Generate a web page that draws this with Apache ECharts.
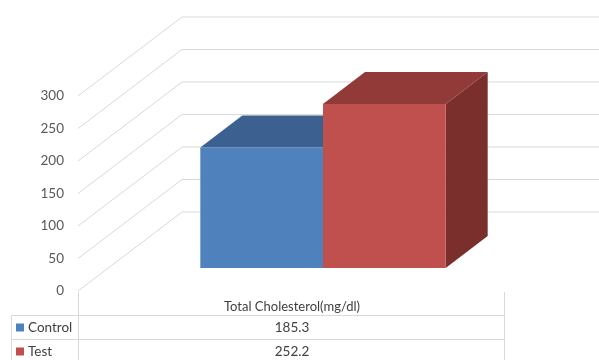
<!DOCTYPE html>
<html>
<head>
<meta charset="utf-8">
<script src="https://cdn.jsdelivr.net/npm/echarts@6/dist/echarts.min.js"></script>
<style>
  html, body { margin: 0; padding: 0; background: #ffffff; }
  #chart { width: 599px; height: 360px; }
</style>
</head>
<body>
<div id="chart"></div>
<script>
// Data
const categories = ['Total Cholesterol(mg/dl)'];
const seriesNames = ['Control', 'Test'];
const controlValues = [185.3];
const testValues = [252.2];
const yTicks = [0, 50, 100, 150, 200, 250, 300];

// Styling
const FONT = 'Lato, "Liberation Sans", sans-serif';
const GRID_COLOR = '#d9d9d9';
const faceColors = [
  { front: '#4f81bd', top: '#3c6190', side: '#2f4b70' },
  { front: '#c0504d', top: '#923a37', side: '#7a2f2d' }
];

// Oblique projection: depth of the whole floor and placement of the bars in it
const WALL_DX = 104, WALL_DY = -79;
const BAR_OFF_DX = 32, BAR_OFF_DY = -23;
const BAR_DEPTH_DX = 42, BAR_DEPTH_DY = -32;
const BAR_FRACTION = 0.288;

const chart = echarts.init(document.getElementById('chart'), null, { renderer: 'canvas' });

function barRenderer(k) {
  const c = faceColors[k];
  return function (params, api) {
    const base = api.coord([api.value(0), 0]);
    const top = api.coord([api.value(0), api.value(1)]);
    const band = api.size([1, 0])[0];
    const bw = band * BAR_FRACTION;
    const x0 = base[0] - bw + k * bw + BAR_OFF_DX;
    const x1 = x0 + bw;
    const yt = top[1] + BAR_OFF_DY;
    const yb = base[1] + BAR_OFF_DY;
    const dx = BAR_DEPTH_DX, dy = BAR_DEPTH_DY;
    return {
      type: 'group',
      children: [
        { type: 'polygon', shape: { points: [[x1, yt], [x1 + dx, yt + dy], [x1 + dx, yb + dy], [x1, yb]] },
          style: { fill: c.side } },
        { type: 'polygon', shape: { points: [[x0, yt], [x1, yt], [x1 + dx, yt + dy], [x0 + dx, yt + dy]] },
          style: { fill: c.top } },
        { type: 'rect', shape: { x: x0, y: yt, width: bw, height: yb - yt },
          style: { fill: c.front } }
      ]
    };
  };
}

function gridRenderer(params, api) {
  const centre = api.coord([0, api.value(1)]);
  const band = api.size([1, 0])[0];
  const xl = centre[0] - band / 2;
  const y = centre[1];
  return {
    type: 'polyline',
    shape: { points: [[xl, y], [xl + WALL_DX, y + WALL_DY], [api.getWidth(), y + WALL_DY]] },
    style: { stroke: GRID_COLOR, lineWidth: 1, fill: null }
  };
}

const option = {
  animation: false,
  backgroundColor: '#ffffff',
  grid: { left: 78, right: 95, top: 96, bottom: 69 },
  xAxis: {
    type: 'category',
    data: categories,
    axisLine: { show: false },
    axisTick: { show: false },
    axisLabel: { show: false }
  },
  yAxis: {
    type: 'value',
    min: 0, max: 300, interval: 50,
    axisLine: { show: false },
    axisTick: { show: false },
    splitLine: { show: false },
    axisLabel: { color: '#595959', fontSize: 13.5, fontFamily: FONT, margin: 14 }
  },
  series: [
    { type: 'custom', name: 'grid', silent: true, z: 1,
      renderItem: gridRenderer,
      data: yTicks.map(v => [0, v]) },
    { type: 'custom', name: seriesNames[0], z: 2,
      renderItem: barRenderer(0),
      data: controlValues.map((v, i) => [i, v]) },
    { type: 'custom', name: seriesNames[1], z: 3,
      renderItem: barRenderer(1),
      data: testValues.map((v, i) => [i, v]) }
  ]
};
chart.setOption(option);

// Data table under the plot
function buildTable() {
  const leftEdge = 11, colLeft = 78, colRight = 504;
  const headerTop = 292, rowTop = 315, rowH = 24;
  const els = [];
  const line = (x1, y1, x2, y2) => ({
    type: 'line', shape: { x1, y1, x2, y2 },
    style: { stroke: GRID_COLOR, lineWidth: 1 }, z: 10
  });
  const allValues = [controlValues, testValues];
  const nRows = seriesNames.length;
  const bottom = rowTop + rowH * nRows;
  els.push(line(colLeft + 0.5, headerTop, colLeft + 0.5, bottom));
  els.push(line(colRight + 0.5, headerTop, colRight + 0.5, bottom));
  els.push(line(leftEdge + 0.5, rowTop, leftEdge + 0.5, bottom));
  for (let r = 0; r <= nRows; r++) {
    els.push(line(leftEdge, rowTop + r * rowH + 0.5, colRight + 1, rowTop + r * rowH + 0.5));
  }
  const cx = (colLeft + colRight) / 2 + 1;
  els.push({
    type: 'text', z: 10,
    style: { text: categories[0], x: cx, y: (headerTop + rowTop) / 2 + 3, align: 'center', verticalAlign: 'middle',
             fill: '#404040', font: '13px ' + FONT }
  });
  seriesNames.forEach((name, r) => {
    const cy = rowTop + r * rowH + rowH / 2 + 0.5;
    els.push({ type: 'rect', z: 10, shape: { x: 16, y: cy - 4, width: 8, height: 8 },
               style: { fill: faceColors[r].front } });
    els.push({ type: 'text', z: 10,
               style: { text: name, x: 28, y: cy, align: 'left', verticalAlign: 'middle',
                        fill: '#404040', font: '13.5px ' + FONT } });
    els.push({ type: 'text', z: 10,
               style: { text: String(allValues[r][0]), x: cx, y: cy, align: 'center', verticalAlign: 'middle',
                        fill: '#404040', font: '13.5px ' + FONT } });
  });
  return els;
}
chart.setOption({ graphic: { elements: buildTable() } });
</script>
</body>
</html>
